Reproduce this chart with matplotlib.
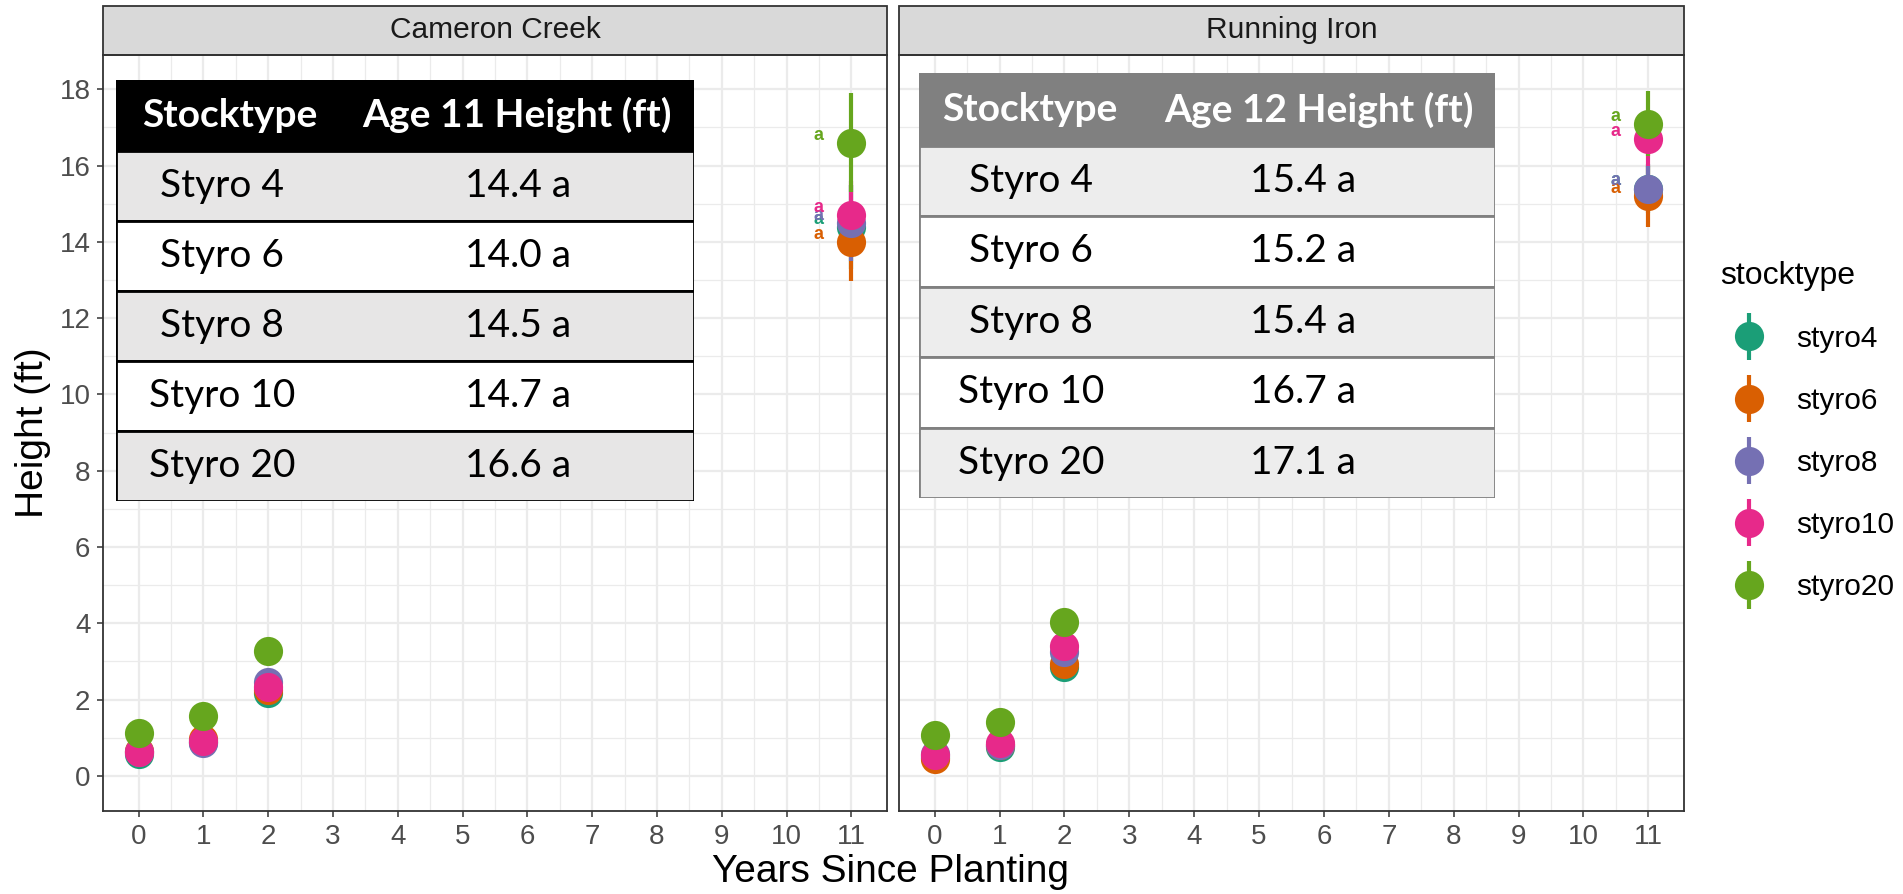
import numpy as np
import matplotlib
matplotlib.use('Agg')
import matplotlib.pyplot as plt
from matplotlib.patches import Rectangle
from matplotlib.container import ErrorbarContainer
from matplotlib.legend_handler import HandlerErrorbar

plt.rcParams['font.family'] = ['Liberation Sans', 'DejaVu Sans']

# data
years = [0, 1, 2, 11]
stocktypes = ['styro4', 'styro6', 'styro8', 'styro10', 'styro20']
table_names = ['Styro 4', 'Styro 6', 'Styro 8', 'Styro 10', 'Styro 20']
colors = ['#1B9E77', '#D95F02', '#7570B3', '#E7298A', '#66A61E']

# Cameron Creek, one row per stocktype
cc_height = [[0.57, 0.88, 2.18, 14.4],
             [0.66, 0.98, 2.25, 14.0],
             [0.62, 0.86, 2.47, 14.5],
             [0.62, 0.92, 2.33, 14.7],
             [1.13, 1.58, 3.27, 16.6]]
cc_se = [[0.08, 0.1, 0.15, 1.1],
         [0.08, 0.1, 0.15, 1.03],
         [0.08, 0.1, 0.15, 1.0],
         [0.08, 0.1, 0.15, 0.9],
         [0.1, 0.12, 0.2, 1.3]]
cc_letters = ['a', 'a', 'a', 'a', 'a']

# Running Iron
ri_height = [[0.50, 0.76, 2.86, 15.4],
             [0.45, 0.80, 2.93, 15.2],
             [0.58, 0.82, 3.25, 15.4],
             [0.55, 0.86, 3.40, 16.7],
             [1.07, 1.41, 4.03, 17.1]]
ri_se = [[0.08, 0.1, 0.15, 0.63],
         [0.08, 0.1, 0.15, 0.8],
         [0.08, 0.1, 0.15, 0.6],
         [0.08, 0.1, 0.15, 0.7],
         [0.1, 0.12, 0.2, 0.85]]
ri_letters = ['a', 'a', 'a', 'a', 'a']

W, H = 1903, 894
fig = plt.figure(figsize=(W / 100, H / 100), dpi=100)


def fbox(x0, y0, x1, y1):
    # pixel box (top-left origin) -> figure fraction rect
    return [x0 / W, 1 - y1 / H, (x1 - x0) / W, (y1 - y0) / H]


def make_panel(rect, title, height, se, letters, show_y):
    ax = fig.add_axes(rect)
    ax.set_xlim(-0.55, 11.55)
    ax.set_ylim(-0.92, 18.9)
    ax.set_xticks(range(12))
    ax.set_xticks(np.arange(0.5, 11, 1), minor=True)
    ax.set_yticks(range(0, 19, 2))
    ax.set_yticks(range(1, 18, 2), minor=True)
    ax.grid(which='major', color='#EBEBEB', lw=1.6)
    ax.grid(which='minor', color='#EBEBEB', lw=0.9)
    ax.set_axisbelow(True)
    for s in ax.spines.values():
        s.set_color('#333333')
        s.set_linewidth(1.3)
    ax.tick_params(which='major', length=4, width=1.1, color='#333333',
                   labelsize=20, labelcolor='#4D4D4D', pad=5)
    ax.tick_params(which='minor', length=0)
    if not show_y:
        ax.tick_params(axis='y', left=False, labelleft=False)

    conts = []
    for i, st in enumerate(stocktypes):
        c = ax.errorbar(years, height[i], yerr=se[i], fmt='o', color=colors[i],
                        ms=21, mew=0, elinewidth=3, capsize=0, label=st)
        conts.append(c)
        ax.text(10.5, height[i][-1] + 0.2, letters[i], color=colors[i],
                fontsize=13, fontweight='bold', ha='center', va='center')

    # facet strip
    sh = 49 / (rect[3] * H)
    ax.add_patch(Rectangle((0, 1), 1, sh, transform=ax.transAxes, clip_on=False,
                           facecolor='#D9D9D9', edgecolor='#333333', lw=1.3))
    ax.text(0.5, 1 + sh / 2, title, transform=ax.transAxes, ha='center',
            va='center', fontsize=21.5, color='#1A1A1A')
    return ax, conts


ax1, conts = make_panel(fbox(103, 55, 887, 811), 'Cameron Creek',
                        cc_height, cc_se, cc_letters, True)
ax2, _ = make_panel(fbox(899, 55, 1684, 811), 'Running Iron',
                    ri_height, ri_se, ri_letters, False)

fig.text(890 / W, 1 - 872 / H, 'Years Since Planting', ha='center', va='center', fontsize=28)
fig.text(33 / W, 1 - 433 / H, 'Height (ft)', ha='center', va='center',
         rotation=90, fontsize=28)


def draw_table(box, header, values, head_fc, row_fc, edge, name_x, val_x, head_h):
    x0, y0, x1, y1 = box
    tw, th = x1 - x0, y1 - y0
    tax = fig.add_axes(fbox(x0, y0, x1, y1))
    tax.set_xlim(0, tw)
    tax.set_ylim(th, 0)
    tax.axis('off')
    row_h = (th - head_h) / len(values)
    tax.add_patch(Rectangle((0, 0), tw, head_h, facecolor=head_fc, edgecolor=edge, lw=2))
    tax.text(name_x[0], head_h / 2, header[0], ha='center', va='center', color='white',
             fontsize=28, fontweight='bold', family='Lato')
    tax.text(val_x[0], head_h / 2, header[1], ha='center', va='center', color='white',
             fontsize=28, fontweight='bold', family='Lato')
    for i, (nm, v) in enumerate(values):
        top = head_h + i * row_h
        tax.add_patch(Rectangle((0, top), tw, row_h, facecolor=row_fc[i % 2],
                                edgecolor=edge, lw=2))
        tax.text(name_x[1], top + row_h / 2, nm, ha='center', va='center',
                 fontsize=28, family='Lato', color='black')
        tax.text(val_x[1], top + row_h / 2, v, ha='center', va='center',
                 fontsize=28, family='Lato', color='black')


cc_rows = [(table_names[i], f'{cc_height[i][-1]:.1f} {cc_letters[i]}') for i in range(5)]
ri_rows = [(table_names[i], f'{ri_height[i][-1]:.1f} {ri_letters[i]}') for i in range(5)]

draw_table((116, 80, 694, 501), ('Stocktype', 'Age 11 Height (ft)'), cc_rows,
           'black', ['#E7E6E6', 'white'], 'black', (114, 106), (401, 402), 70.5)
draw_table((919, 73, 1495, 498), ('Stocktype', 'Age 12 Height (ft)'), ri_rows,
           '#808080', ['#EDEDED', 'white'], '#808080', (111, 112), (400, 384), 72.8)

fig.legend(conts, stocktypes, loc='upper left', bbox_to_anchor=(1693 / W, 1 - 234 / H),
           frameon=False, title='stocktype', fontsize=21.5, title_fontsize=23,
           handler_map={ErrorbarContainer: HandlerErrorbar(yerr_size=0.8)},
           labelspacing=1.14, handlelength=1.95, handletextpad=0.61, alignment='left',
           markerscale=1.0)

fig.savefig('out.png', dpi=100)
